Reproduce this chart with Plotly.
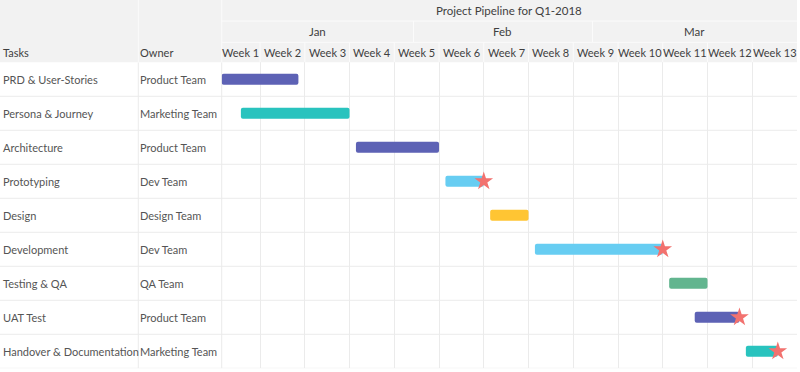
import plotly.graph_objects as go
import pandas as pd

# ---------------- data ----------------
tasks = ["PRD & User-Stories", "Persona & Journey", "Architecture", "Prototyping", "Design",
         "Development", "Testing & QA", "UAT Test", "Handover & Documentation"]
owners = ["Product Team", "Marketing Team", "Product Team", "Dev Team", "Design Team",
          "Dev Team", "QA Team", "Product Team", "Marketing Team"]
starts = ["2018-01-02", "2018-01-05", "2018-01-23", "2018-02-06", "2018-02-13",
          "2018-02-20", "2018-03-13", "2018-03-17", "2018-03-25"]
ends = ["2018-01-14", "2018-01-22", "2018-02-05", "2018-02-12", "2018-02-19",
        "2018-03-12", "2018-03-19", "2018-03-24", "2018-03-30"]
bar_colors = ["#5D62B5", "#29C3BE", "#5D62B5", "#67CDF2", "#FFC533",
              "#67CDF2", "#62B58F", "#5D62B5", "#29C3BE"]
milestone_tasks = ["Prototyping", "Development", "UAT Test", "Handover & Documentation"]

week_labels = ["Week %d" % i for i in range(1, 14)]
week_starts = ["2018-01-02", "2018-01-08", "2018-01-15", "2018-01-22", "2018-01-29",
               "2018-02-05", "2018-02-12", "2018-02-19", "2018-02-26", "2018-03-05",
               "2018-03-12", "2018-03-19", "2018-03-26"]
timeline_end = "2018-04-02"
month_labels = ["Jan", "Feb", "Mar"]
month_starts = ["2018-01-02", "2018-02-01", "2018-03-01"]
title_text = "Project Pipeline for Q1-2018"

# ---------------- geometry helpers ----------------
W, H = 800, 372
X0, X1 = 221.7, 797.0      # timeline pixel extent
Y_TOP, Y_BOT = 62.3, 368.3  # body pixel extent
COL2 = 138.3
ROW1, ROW2 = 21.0, 42.3     # header row separators

def px(x):
    return x / W

def py(y):
    return 1 - y / H

FONT = "Lato, 'Source Sans Pro', 'Open Sans', sans-serif"
TXT = "#555555"
HDR = "#3f3f3f"
GRID = "#ebebeb"
HBG = "#f2f2f2"
FS = 11

s = pd.to_datetime(starts)
e = pd.to_datetime(ends)
dur_ms = [(b - a).total_seconds() * 1000 for a, b in zip(s, e)]

fig = go.Figure()
fig.add_trace(go.Bar(
    y=tasks, x=dur_ms, base=starts, orientation="h",
    marker=dict(color=bar_colors, cornerradius=2, line=dict(width=0)),
    width=0.32, showlegend=False, hoverinfo="skip"))

ms_x = [ends[tasks.index(t)] for t in milestone_tasks]
fig.add_trace(go.Scatter(
    x=ms_x, y=milestone_tasks, mode="markers",
    marker=dict(symbol="star", size=14, color="#F2726F", line=dict(width=0)),
    showlegend=False, hoverinfo="skip"))

shapes = []
# header background
shapes.append(dict(type="rect", xref="paper", yref="paper", x0=0, x1=px(X1), y0=py(Y_TOP), y1=1,
                   fillcolor=HBG, line=dict(width=0), layer="below"))
# header white separators
for xx in (COL2, X0):
    shapes.append(dict(type="line", xref="paper", yref="paper", x0=px(xx), x1=px(xx), y0=py(Y_TOP), y1=1,
                       line=dict(color="#fbfbfb", width=1)))
for yy in (ROW1, ROW2):
    shapes.append(dict(type="line", xref="paper", yref="paper", x0=px(X0), x1=px(X1), y0=py(yy), y1=py(yy),
                       line=dict(color="#fbfbfb", width=1)))
for ws in week_starts[1:]:
    shapes.append(dict(type="line", xref="x", yref="paper", x0=ws, x1=ws, y0=py(Y_TOP), y1=py(ROW2),
                       line=dict(color="#fbfbfb", width=1)))
for m in month_starts[1:]:
    shapes.append(dict(type="line", xref="x", yref="paper", x0=m, x1=m, y0=py(ROW2), y1=py(ROW1),
                       line=dict(color="#fbfbfb", width=1)))
# body horizontal row lines
for i in range(len(tasks)):
    shapes.append(dict(type="line", xref="paper", yref="y", x0=0, x1=px(X1), y0=i + 0.5, y1=i + 0.5,
                       line=dict(color=GRID, width=1), layer="below"))
# body vertical lines in table part
for xx in (COL2, X0):
    shapes.append(dict(type="line", xref="paper", yref="y", x0=px(xx), x1=px(xx), y0=-0.5, y1=len(tasks) - 0.5,
                       line=dict(color=GRID, width=1), layer="below"))

ann = []
for t, o in zip(tasks, owners):
    ann.append(dict(x=px(0.5), xref="paper", y=t, yref="y", text=t, showarrow=False,
                    xanchor="left", yanchor="middle", font=dict(family=FONT, size=FS, color=TXT)))
    ann.append(dict(x=px(COL2), xref="paper", y=t, yref="y", text=o, showarrow=False,
                    xanchor="left", yanchor="middle", font=dict(family=FONT, size=FS, color=TXT)))
# column headers
ann.append(dict(x=px(0.5), xref="paper", y=py(53), yref="paper", text="Tasks", showarrow=False,
                xanchor="left", yanchor="middle", font=dict(family=FONT, size=FS, color=HDR)))
ann.append(dict(x=px(COL2), xref="paper", y=py(53), yref="paper", text="Owner", showarrow=False,
                xanchor="left", yanchor="middle", font=dict(family=FONT, size=FS, color=HDR)))
# week labels
wb = pd.to_datetime(week_starts + [timeline_end])
for i, lab in enumerate(week_labels):
    mid = wb[i] + (wb[i + 1] - wb[i]) / 2
    ann.append(dict(x=mid, xref="x", y=py(52.3), yref="paper", text=lab, showarrow=False,
                    xanchor="center", yanchor="middle", font=dict(family=FONT, size=FS, color=HDR)))
mb = pd.to_datetime(month_starts + [timeline_end])
for i, lab in enumerate(month_labels):
    mid = mb[i] + (mb[i + 1] - mb[i]) / 2
    ann.append(dict(x=mid, xref="x", y=py(31.6), yref="paper", text=lab, showarrow=False,
                    xanchor="center", yanchor="middle", font=dict(family=FONT, size=FS + 0.5, color=HDR)))
ann.append(dict(x=px((X0 + X1) / 2), xref="paper", y=py(11), yref="paper", text=title_text, showarrow=False,
                xanchor="center", yanchor="middle", font=dict(family=FONT, size=FS + 0.5, color=HDR)))

fig.update_layout(
    width=W, height=H, margin=dict(l=0, r=0, t=0, b=0),
    paper_bgcolor="white", plot_bgcolor="white",
    shapes=shapes, annotations=ann, barmode="overlay",
    xaxis=dict(type="date", domain=[px(X0), px(X1)], range=[week_starts[0], timeline_end],
               tickvals=week_starts, showticklabels=False, showgrid=True, gridcolor=GRID, gridwidth=1,
               zeroline=False, showline=False, fixedrange=True),
    yaxis=dict(type="category", categoryarray=tasks, domain=[py(Y_BOT), py(Y_TOP)],
               range=[len(tasks) - 0.5, -0.5], showticklabels=False, showgrid=False,
               zeroline=False, showline=False, fixedrange=True),
)

fig.write_html("out.html", config={"displayModeBar": False},
               post_script="document.body.style.margin='0';")
